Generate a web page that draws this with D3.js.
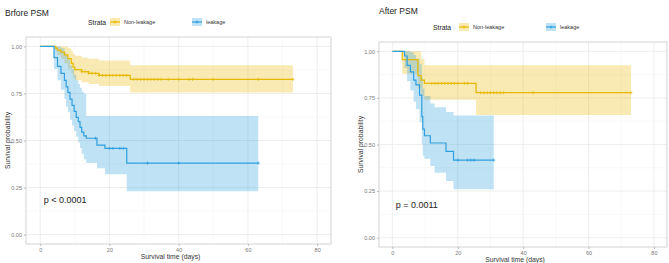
<!DOCTYPE html>
<html>
<head>
<meta charset="utf-8">
<script src="https://cdn.jsdelivr.net/npm/d3@7"></script>
<style>
  body { margin: 0; background: #fff; }
  svg { font-family: "Liberation Sans", Arial, sans-serif; }
</style>
</head>
<body>
<svg id="chart" width="669" height="263"></svg>
<script>
// ---- data ----
var xTicks = [0, 20, 40, 60, 80];
var yTicks = [0, 0.25, 0.5, 0.75, 1];
var strata = ["Non-leakage", "leakage"];

// Before PSM, Non-leakage
var bNonTime  = [0, 4.5, 5, 6, 7, 8, 9, 9.5, 10, 12, 14, 17, 26];
var bNonSurv  = [1, 0.99, 0.98, 0.97, 0.955, 0.935, 0.91, 0.89, 0.877, 0.866, 0.857, 0.846, 0.825];
var bNonUpper = [1, 1, 1, 1, 1, 0.99, 0.975, 0.96, 0.95, 0.94, 0.935, 0.925, 0.90];
var bNonLower = [1, 0.97, 0.955, 0.935, 0.91, 0.88, 0.855, 0.835, 0.82, 0.81, 0.80, 0.79, 0.755];
var bNonEnd = 73;
var bNonCens = [12, 13, 14, 15, 16, 17, 18, 19, 20, 21, 22, 23, 24, 25, 27, 28, 29, 30, 31, 32, 33, 34, 35, 37, 40, 43, 44, 50, 63, 73];

// Before PSM, leakage
var bLeakTime  = [0, 4, 5, 6, 7, 7.5, 8, 8.6, 9.2, 9.8, 10.4, 11, 11.5, 12, 12.6, 13.3, 16.4, 18.7, 25];
var bLeakSurv  = [1, 0.94, 0.894, 0.857, 0.82, 0.785, 0.756, 0.72, 0.687, 0.655, 0.623, 0.6, 0.57, 0.544, 0.525, 0.512, 0.475, 0.458, 0.38];
var bLeakUpper = [1, 1, 1, 0.99, 0.97, 0.95, 0.93, 0.9, 0.88, 0.85, 0.82, 0.8, 0.78, 0.76, 0.75, 0.63, 0.63, 0.63, 0.63];
var bLeakLower = [1, 0.88, 0.82, 0.77, 0.72, 0.68, 0.65, 0.61, 0.58, 0.55, 0.52, 0.49, 0.46, 0.43, 0.40, 0.38, 0.353, 0.32, 0.23];
var bLeakEnd = 63;
var bLeakCens = [16, 20, 21, 23, 24, 31, 40, 63];

// After PSM, Non-leakage
var aNonTime  = [0, 3, 7.8, 8.8, 9.8, 25.6];
var aNonSurv  = [1, 0.955, 0.87, 0.845, 0.828, 0.778];
var aNonUpper = [1, 1, 1, 0.96, 0.925, 0.925];
var aNonLower = [1, 0.88, 0.8, 0.76, 0.74, 0.658];
var aNonEnd = 73;
var aNonCens = [12, 13, 14, 15, 16, 17, 18, 19, 20, 22, 23, 27, 28, 29, 30, 31, 32, 33, 34, 43, 73];

// After PSM, leakage
var aLeakTime  = [0, 3.7, 4.5, 5.5, 6.5, 7.2, 8.3, 9, 9.3, 9.8, 11.6, 12.9, 16.4, 18.7];
var aLeakSurv  = [1, 0.975, 0.925, 0.89, 0.845, 0.82, 0.765, 0.65, 0.583, 0.547, 0.508, 0.508, 0.463, 0.416];
var aLeakUpper = [1, 1, 1, 0.995, 0.98, 0.96, 0.93, 0.86, 0.8, 0.76, 0.72, 0.70, 0.675, 0.655];
var aLeakLower = [1, 0.91, 0.84, 0.79, 0.73, 0.69, 0.62, 0.5, 0.44, 0.423, 0.384, 0.348, 0.304, 0.26];
var aLeakEnd = 31;
var aLeakCens = [20, 23, 24, 25, 31];

var colors = ["#E7B800", "#2E9FDF"];

var svg = d3.select("#chart");

function curve(time, surv, upper, lower, end, cens) {
    var pts = time.map(function (t, i) {
        return {t: t, s: surv[i], u: upper[i], l: lower[i]};
    });
    var last = pts[pts.length - 1];
    pts.push({t: end, s: last.s, u: last.u, l: last.l});
    return {pts: pts, cens: cens};
}

function survAt(pts, t) {
    var i = d3.bisector(function (d) { return d.t; }).right(pts, t) - 1;
    return pts[Math.max(0, i)].s;
}

function drawPanel(p) {
    var x = d3.scaleLinear().domain([-4.1, 84]).range([p.left, p.right]);
    var y = d3.scaleLinear().domain([-0.05, 1.05]).range([p.bottom, p.top]);
    var g = svg.append("g");

    // minor grid
    g.selectAll(".vminor").data([10, 30, 50, 70]).enter().append("line")
        .attr("x1", function (d) { return x(d); }).attr("x2", function (d) { return x(d); })
        .attr("y1", p.top).attr("y2", p.bottom)
        .attr("stroke", "#f3f3f3").attr("stroke-width", 0.5);
    g.selectAll(".hminor").data([0.125, 0.375, 0.625, 0.875]).enter().append("line")
        .attr("y1", function (d) { return y(d); }).attr("y2", function (d) { return y(d); })
        .attr("x1", p.left).attr("x2", p.right)
        .attr("stroke", "#f3f3f3").attr("stroke-width", 0.5);
    // major grid
    g.selectAll(".vmajor").data(xTicks).enter().append("line")
        .attr("x1", function (d) { return x(d); }).attr("x2", function (d) { return x(d); })
        .attr("y1", p.top).attr("y2", p.bottom)
        .attr("stroke", "#e6e6e6").attr("stroke-width", 0.7);
    g.selectAll(".hmajor").data(yTicks).enter().append("line")
        .attr("y1", function (d) { return y(d); }).attr("y2", function (d) { return y(d); })
        .attr("x1", p.left).attr("x2", p.right)
        .attr("stroke", "#e6e6e6").attr("stroke-width", 0.7);

    var area = d3.area()
        .x(function (d) { return x(d.t); })
        .y0(function (d) { return y(d.l); })
        .y1(function (d) { return y(d.u); })
        .curve(d3.curveStepAfter);
    var line = d3.line()
        .x(function (d) { return x(d.t); })
        .y(function (d) { return y(d.s); })
        .curve(d3.curveStepAfter);

    p.curves.forEach(function (c, i) {
        g.append("path").attr("d", area(c.pts))
            .attr("fill", colors[i]).attr("fill-opacity", 0.3);
    });
    p.curves.forEach(function (c, i) {
        g.append("path").attr("d", line(c.pts))
            .attr("fill", "none").attr("stroke", colors[i]).attr("stroke-width", 1.2);
        g.selectAll(".cens" + i).data(c.cens).enter().append("path")
            .attr("transform", function (d) {
                return "translate(" + x(d) + "," + y(survAt(c.pts, d)) + ")";
            })
            .attr("d", "M-1.6,0H1.6M0,-1.6V1.6")
            .attr("stroke", colors[i]).attr("stroke-width", 0.7);
    });

    // panel border
    g.append("rect").attr("x", p.left).attr("y", p.top)
        .attr("width", p.right - p.left).attr("height", p.bottom - p.top)
        .attr("fill", "none").attr("stroke", "#c8c8c8").attr("stroke-width", 0.8);

    // axes
    var ax = g.append("g").attr("transform", "translate(0," + p.bottom + ")")
        .call(d3.axisBottom(x).tickValues(xTicks).tickSize(2).tickPadding(2));
    var ay = g.append("g").attr("transform", "translate(" + p.left + ",0)")
        .call(d3.axisLeft(y).tickValues(yTicks).tickSize(2).tickPadding(2).tickFormat(d3.format(".2f")));
    [ax, ay].forEach(function (a) {
        a.select(".domain").remove();
        a.selectAll("line").attr("stroke", "#bbb");
        a.selectAll("text").attr("fill", "#777").style("font-size", "5.5px")
            .style("font-family", "Liberation Sans, Arial, sans-serif");
    });

    g.append("text").attr("x", (p.left + p.right) / 2 - 8).attr("y", p.bottom + 15)
        .attr("text-anchor", "middle").style("font-size", "6.8px").attr("fill", "#333")
        .text("Survival time (days)");
    g.append("text")
        .attr("transform", "translate(" + (p.left - 16) + "," + ((p.top + p.bottom) / 2) + ") rotate(-90)")
        .attr("text-anchor", "middle").style("font-size", "6.8px").attr("fill", "#333")
        .text("Survival probability");

    g.append("text").attr("x", p.titleX).attr("y", p.titleY)
        .style("font-size", "8.5px").attr("fill", "#222").text(p.title);

    g.append("text").attr("x", x(p.pX)).attr("y", y(p.pY))
        .style("font-size", "9px").attr("fill", "#222").text(p.pText);

    // legend
    var lg = g.append("g").attr("transform", "translate(0," + p.legendY + ")");
    lg.append("text").attr("x", p.legendX).attr("y", 2.5)
        .style("font-size", "6.8px").attr("fill", "#222").text("Strata");
    strata.forEach(function (s, i) {
        var kx = p.keyX[i];
        lg.append("rect").attr("x", kx).attr("y", -4).attr("width", 10).attr("height", 8)
            .attr("fill", colors[i]).attr("fill-opacity", 0.3);
        lg.append("line").attr("x1", kx).attr("x2", kx + 10).attr("y1", 0).attr("y2", 0)
            .attr("stroke", colors[i]).attr("stroke-width", 1.2);
        lg.append("path").attr("transform", "translate(" + (kx + 5) + ",0)")
            .attr("d", "M-1.6,0H1.6M0,-1.6V1.6")
            .attr("stroke", colors[i]).attr("stroke-width", 0.7);
        lg.append("text").attr("x", kx + 14).attr("y", 2)
            .style("font-size", "5.5px").attr("fill", "#333").text(s);
    });
}

drawPanel({
    left: 26, right: 331, top: 37, bottom: 244,
    title: "Brfore PSM", titleX: 5, titleY: 16,
    pText: "p < 0.0001", pX: 1, pY: 0.17,
    legendX: 88, legendY: 22, keyX: [110, 192],
    curves: [
        curve(bNonTime, bNonSurv, bNonUpper, bNonLower, bNonEnd, bNonCens),
        curve(bLeakTime, bLeakSurv, bLeakUpper, bLeakLower, bLeakEnd, bLeakCens)
    ]
});

drawPanel({
    left: 379, right: 667, top: 42, bottom: 247,
    title: "After PSM", titleX: 379, titleY: 14,
    pText: "p = 0.0011", pX: 1, pY: 0.16,
    legendX: 433, legendY: 27, keyX: [459, 546],
    curves: [
        curve(aNonTime, aNonSurv, aNonUpper, aNonLower, aNonEnd, aNonCens),
        curve(aLeakTime, aLeakSurv, aLeakUpper, aLeakLower, aLeakEnd, aLeakCens)
    ]
});
</script>
</body>
</html>
